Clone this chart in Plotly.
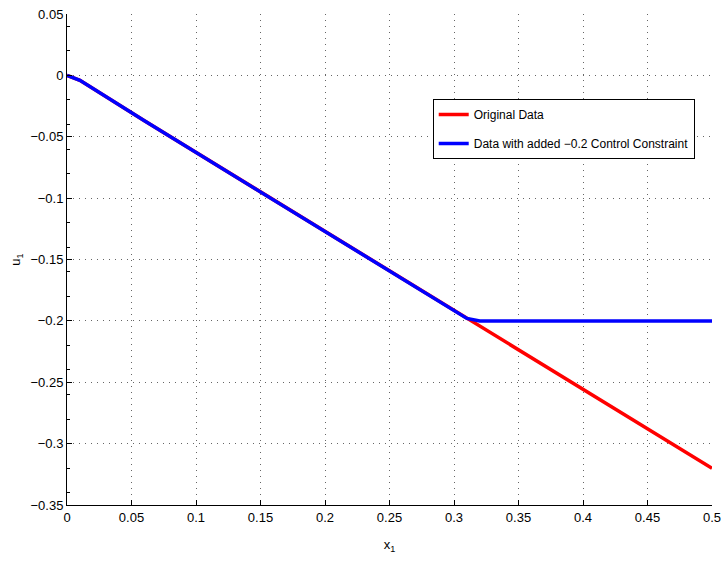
import plotly.graph_objects as go

# Control input u1 versus state x1
x_orig = [0.0, 0.01, 0.06, 0.31, 0.5]
u_orig = [0.0, -0.004, -0.037, -0.1975, -0.32]

x_con = [0.0, 0.01, 0.06, 0.31, 0.32, 0.5]
u_con = [0.0, -0.004, -0.037, -0.198, -0.2, -0.2]

x_ticks = [0, 0.05, 0.1, 0.15, 0.2, 0.25, 0.3, 0.35, 0.4, 0.45, 0.5]
x_tick_text = ["0", "0.05", "0.1", "0.15", "0.2", "0.25", "0.3", "0.35", "0.4", "0.45", "0.5"]
y_ticks = [0.05, 0, -0.05, -0.1, -0.15, -0.2, -0.25, -0.3, -0.35]
y_tick_text = ["0.05", "0", "\u22120.05", "\u22120.1", "\u22120.15", "\u22120.2",
               "\u22120.25", "\u22120.3", "\u22120.35"]

FONT = "Liberation Sans, Arial, sans-serif"

fig = go.Figure()
fig.add_trace(go.Scatter(x=x_orig, y=u_orig, mode="lines", name="Original Data",
                         legendgroup="a",
                         line=dict(color="#ff0000", width=3.5)))
fig.add_trace(go.Scatter(x=x_con, y=u_con, mode="lines",
                         name="Data with added \u22120.2 Control Constraint",
                         legendgroup="b",
                         line=dict(color="#0000ff", width=3.5)))

axis_common = dict(
    showline=True, linecolor="black", linewidth=1, mirror=False,
    ticks="inside", ticklen=5, tickcolor="black",
    showgrid=True, gridcolor="rgba(0,0,0,0.6)", griddash="1px,5px", gridwidth=1,
    zeroline=False, automargin=False,
    tickfont=dict(family=FONT, size=13, color="black"),
    minor=dict(ticks="inside", ticklen=3, tickcolor="black", nticks=5, showgrid=False),
)

fig.update_xaxes(range=[0, 0.5], tickvals=x_ticks, ticktext=x_tick_text,
                 title=dict(text="x<sub>1</sub>", font=dict(family=FONT, size=13, color="black"),
                            standoff=16),
                 **axis_common)
fig.update_yaxes(range=[-0.35, 0.05], tickvals=y_ticks, ticktext=y_tick_text,
                 title=dict(text="u<sub>1</sub>", font=dict(family=FONT, size=13, color="black"),
                            standoff=6),
                 **axis_common)

fig.update_layout(
    width=723, height=568,
    margin=dict(l=67, r=11, t=14, b=63),
    paper_bgcolor="white", plot_bgcolor="white",
    showlegend=True,
    legend=dict(x=0.567, y=0.827, xanchor="left", yanchor="top",
                bgcolor="white", bordercolor="black", borderwidth=1,
                font=dict(family=FONT, size=12, color="black"),
                tracegroupgap=10),
)

fig.write_html("out.html")
